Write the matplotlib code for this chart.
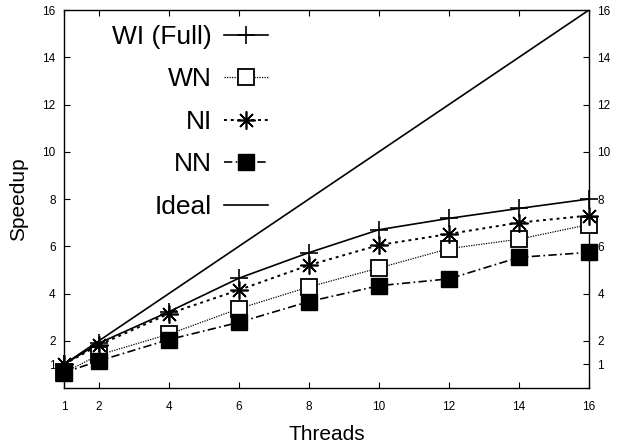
import matplotlib
matplotlib.use("Agg")
import matplotlib.pyplot as plt

plt.rcParams['font.family'] = ['Liberation Sans', 'DejaVu Sans']

threads = [1, 2, 4, 6, 8, 10, 12, 14, 16]
wi_full = [1.0, 1.9, 3.23, 4.65, 5.73, 6.7, 7.18, 7.6, 8.0]
wn = [0.65, 1.4, 2.28, 3.36, 4.28, 5.08, 5.9, 6.3, 6.92]
ni = [1.0, 1.82, 3.15, 4.15, 5.2, 6.05, 6.52, 7.0, 7.3]
nn = [0.65, 1.15, 2.05, 2.78, 3.66, 4.33, 4.62, 5.53, 5.74]
ideal = [1, 16]
ideal_x = [1, 16]
yticks = [1, 2, 4, 6, 8, 10, 12, 14, 16]

fig = plt.figure(figsize=(6.24, 4.44), dpi=100)
ax = fig.add_axes([64/624, 1-388/444, (589-64)/624, (388-10)/444])

lw = 1.2
ax.plot(threads, wi_full, color='black', lw=lw, ls='-', marker='+', ms=13, mew=1.2, label='WI (Full)', clip_on=False, zorder=5)
ax.plot(threads, wn, color='black', lw=0.9, ls=(0, (1, 1)), marker='s', ms=12, mfc='white', mec='black', mew=1.3, label='WN', clip_on=False, zorder=3)
ax.plot(threads, ni, color='black', lw=1.4, ls=(0, (1.5, 2)), marker=(8, 2, 0), ms=13, mew=1.2, label='NI', clip_on=False, zorder=4)
ax.plot(threads, nn, color='black', lw=1.2, ls=(0, (5, 2, 1, 2)), marker='s', ms=12, mfc='black', mec='black', label='NN', clip_on=False, zorder=3)
ax.plot(ideal_x, ideal, color='black', lw=lw, ls='-', label='Ideal', zorder=2)

ax.set_xlim(1, 16)
ax.set_ylim(0, 16)
ax.set_xticks(threads)
ax.set_yticks(yticks)
ax.tick_params(direction='in', length=4, width=0.8, labelsize=8.5, top=True, right=True, labelright=True, pad=6)
ax.tick_params(axis='x', pad=9)
ax.set_xlabel('Threads', fontsize=15, labelpad=9)
ax.set_ylabel('Speedup', fontsize=15, labelpad=10)
for s in ax.spines.values():
    s.set_linewidth(1.0)

leg = ax.legend(loc='upper left', bbox_to_anchor=(112/624, 1-25/444), bbox_transform=fig.transFigure,
                frameon=False, markerfirst=False, fontsize=19, handlelength=1.7,
                labelspacing=0.7, handletextpad=0.45, borderaxespad=0, borderpad=0)
for t in leg.get_texts():
    t.set_ha('right')
leg._legend_box.align = 'right'

fig.savefig('out.png', dpi=100)
